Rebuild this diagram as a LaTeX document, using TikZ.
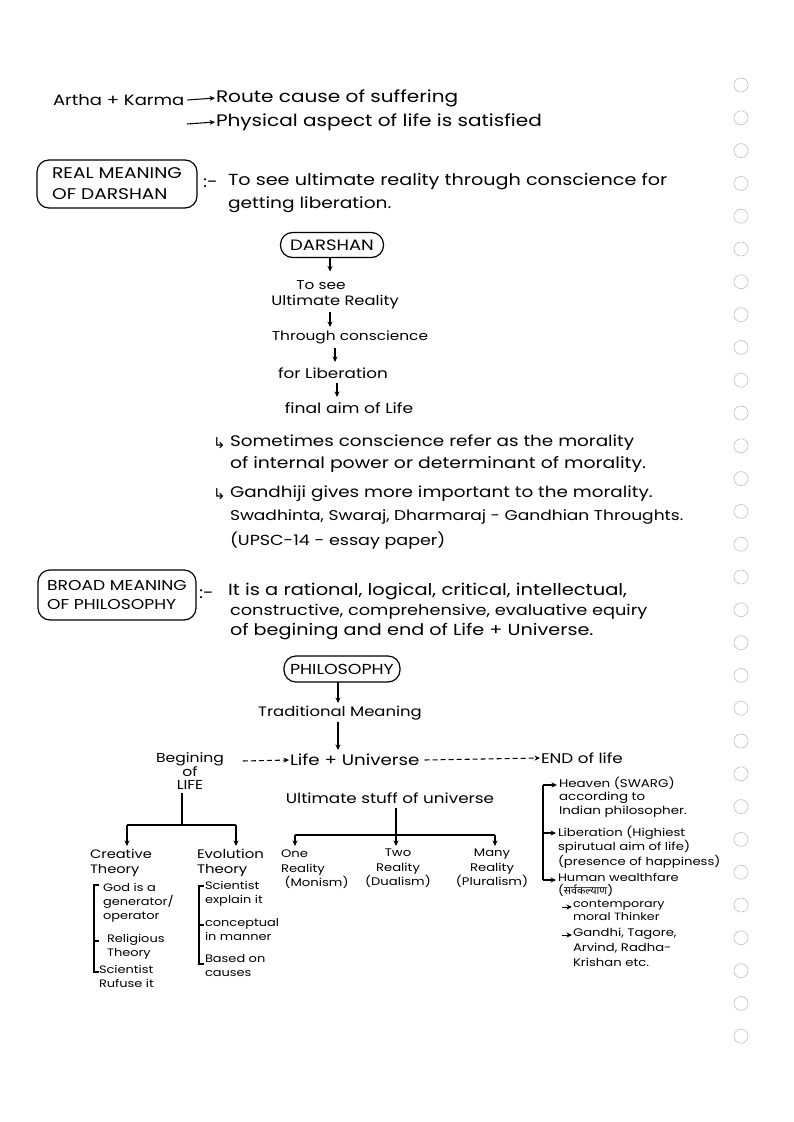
\documentclass[tikz,border=0pt]{standalone}
\usepackage{fontspec}
\setmainfont{Poppins}[FakeStretch=1.2]
\newfontfamily\hindi[Script=Devanagari]{Noto Sans}
\newfontfamily\sym{DejaVu Sans}
\usetikzlibrary{arrows.meta}
\newcommand{\fs}[1]{\fontsize{#1}{#1}\selectfont}
\begin{document}
\begin{tikzpicture}[x=1pt,y=-1pt,
  every node/.style={inner sep=0pt, outer sep=0pt},
  sml/.style={align=left},
  box/.style={draw, line width=1.2pt, rounded corners=12pt, align=left},
  arr/.style={-{Stealth[length=5.5pt,width=5pt]}, line width=1.05pt},
  ln/.style={line width=1.05pt},
  hole/.style={draw=gray!50, line width=0.6pt}]
\useasboundingbox (0,0) rectangle (794,1122);

% top lines
\node[anchor=west, font=\fs{15}] (ak) at (53,100) {Artha + Karma};
\node[anchor=west, font=\fs{16.7}] (r1) at (216,98) {Route cause of suffering};
\node[anchor=west, font=\fs{16.7}] (r2) at (216,122) {Physical aspect of life is satisfied};
\coordinate (a2) at (187,124);
\draw[arr] ([xshift=3pt]ak.east) -- ([xshift=-1pt]r1.west);
\draw[arr] (a2) -- ([xshift=-1pt]r2.west);

% real meaning of darshan
\node[box, minimum width=160pt, minimum height=48pt, inner xsep=8pt, font=\fontsize{15.5}{21}\selectfont] (rm) at (117,184) {REAL MEANING\\OF DARSHAN};
\node[anchor=west, font=\fs{16}] (c1) at (203,183) {:-};
\node[anchor=west, font=\fs{16}] (d1) at (228,182) {To see ultimate reality through conscience for};
\node[anchor=west, font=\fs{15.5}] (d2) at (228,205) {getting liberation.};

% darshan flow
\node[box, minimum width=103pt, minimum height=25pt, align=center, font=\fs{15}] (dar) at (332,245) {DARSHAN};
\node[font=\fs{12.8}] (t1) at (321,285) {To see};
\node[font=\fs{13.6}] (t2) at (335,302) {Ultimate Reality};
\node[font=\fs{12.8}] (t3) at (350,337) {Through conscience};
\node[font=\fs{14}] (t4) at (333,373) {for Liberation};
\node[font=\fs{14.3}] (t5) at (349,408) {final aim of Life};
\draw[arr] ([xshift=-2pt]dar.south) -- ++(0,14);
\draw[arr] (330,312) -- (330,327);
\draw[arr] (335,348) -- (335,362);
\draw[arr] (337,383) -- (337,397);

% notes
\node[anchor=west, font=\sym\fs{15}] (b1) at (213,443) {↳};
\node[anchor=west, font=\fs{15.3}] (n1) at (230,443) {Sometimes conscience refer as the morality};
\node[anchor=west, font=\fs{15.7}] (n2) at (230,465) {of internal power or determinant of morality.};
\node[anchor=west, font=\sym\fs{15}] (b2) at (213,494) {↳};
\node[anchor=west, font=\fs{15.3}] (n3) at (230,494) {Gandhiji gives more important to the morality.};
\node[anchor=west, font=\fs{14.2}] (n4) at (230,517) {Swadhinta, Swaraj, Dharmaraj - Gandhian Throughts.};
\node[anchor=west, font=\fs{14.6}] (n5) at (230,541) {(UPSC-14 - essay paper)};

% broad meaning
\node[box, minimum width=158pt, minimum height=50pt, inner xsep=8pt, font=\fontsize{14.3}{20}\selectfont] (bm) at (117,595) {BROAD MEANING\\OF PHILOSOPHY};
\node[anchor=west, font=\fs{16}] (c2) at (199,594) {:-};
\node[anchor=west, font=\fs{16.2}] (p1) at (228,592) {It is a rational, logical, critical, intellectual,};
\node[anchor=west, font=\fs{14.8}] (p2) at (230,612) {constructive, comprehensive, evaluative equiry};
\node[anchor=west, font=\fs{16}] (p3) at (230,632) {of begining and end of Life + Universe.};

% philosophy tree
\node[box, minimum width=116pt, minimum height=26pt, align=center, font=\fs{14.5}] (ph) at (342,669) {PHILOSOPHY};
\node[font=\fs{13.7}] (tm) at (340,713) {Traditional Meaning};
\node[anchor=west, font=\fs{15.2}] (lu) at (290,760) {Life + Universe};
\node[anchor=west, font=\fs{14}] (el) at (541,758) {END of life};
\node[align=center, font=\fontsize{13}{12.5}\selectfont] (bg) at (190,771) {Begining\\of\\LIFE};
\draw[arr] (338,682) -- (338,703);
\draw[arr] (338,722) -- (338,750);
\coordinate (b0) at (243,761);
\draw[arr, dash pattern=on 5pt off 3pt] (b0) -- ([xshift=-1pt]lu.west);
\draw[arr, dash pattern=on 5pt off 3pt] ([xshift=5pt]lu.east) -- ([xshift=-1pt]el.west);

% beginning of life branch
\coordinate (lj) at (182,825);
\draw[ln] (182,793) -- (lj);
\draw[ln] (127,825) -- (236,825);
\node[sml, font=\fontsize{12.2}{15.5}\selectfont, anchor=north west] (cr) at (90,849) {Creative\\Theory};
\node[sml, font=\fontsize{12.4}{15.5}\selectfont, anchor=north west] (ev) at (197,849) {Evolution\\Theory};
\draw[arr] (127,825) -- (127,846);
\draw[arr] (236,825) -- (236,846);

\node[sml, font=\fontsize{10.8}{14}\selectfont, anchor=north west] (cg) at (103,883) {God is a\\generator/\\operator};
\node[sml, font=\fontsize{10.8}{14}\selectfont, anchor=north west] (cre) at (107,934) {Religious\\Theory};
\node[sml, font=\fontsize{10.8}{14}\selectfont, anchor=north west] (cs) at (99,965) {Scientist\\Rufuse it};
\draw[ln] (99,885) -- (94,885) -- (94,972) -- (99,972);
\draw[ln] (94,941) -- (99,941);

\node[sml, font=\fontsize{10.8}{14}\selectfont, anchor=north west] (es) at (205,881) {Scientist\\explain it};
\node[sml, font=\fontsize{10.8}{14}\selectfont, anchor=north west] (ec) at (205,918) {conceptual\\in manner};
\node[sml, font=\fontsize{10.8}{14}\selectfont, anchor=north west] (eb) at (205,954) {Based on\\causes};
\draw[ln] (204,886) -- (199,886) -- (199,964) -- (204,964);
\draw[ln] (199,925) -- (204,925);

% ultimate stuff
\node[font=\fs{14}] (us) at (390,798) {Ultimate stuff of universe};
\draw[arr] (396,808) -- (396,846);
\draw[ln] (295,835) -- (495,835);
\draw[arr] (295,835) -- (295,846);
\draw[arr] (495,835) -- (495,846);
\node[sml, anchor=north west, font=\fontsize{11}{14.5}\selectfont] (m1) at (281,850) {One\\Reality\\\ (Monism)};
\node[sml, anchor=north, align=center, font=\fontsize{11}{14.5}\selectfont] (m2) at (398,849) {Two\\Reality\\(Dualism)};
\node[sml, anchor=north, align=center, font=\fontsize{11}{14.5}\selectfont] (m3) at (492,849) {Many\\Reality\\(Pluralism)};

% end of life branch
\draw[ln] (543,880) -- (543,785);
\draw[arr] (543,785) -- (557,785);
\draw[arr] (543,833) -- (556,833);
\draw[arr] (543,880) -- (556,880);
\node[sml, anchor=north west, font=\fontsize{11.2}{13.5}\selectfont] (h1) at (559,777) {Heaven (SWARG)\\according to\\Indian philosopher.};
\node[sml, anchor=north west, font=\fontsize{11}{14.5}\selectfont] (h2) at (558,826) {Liberation (Highiest\\spirutual aim of life)\\(presence of happiness)};
\node[sml, anchor=north west, font=\fontsize{10.8}{13.5}\selectfont] (h3) at (558,873) {Human wealthfare\\({\hindi सर्वकल्याण})};
\node[sml, anchor=north west, font=\fontsize{10.6}{13.5}\selectfont] (h4) at (573,900) {contemporary\\moral Thinker};
\node[sml, anchor=north west, font=\fontsize{11}{15}\selectfont] (h5) at (573,928) {Gandhi, Tagore,\\Arvind, Radha-\\Krishan etc.};
\coordinate (h4a) at (562,907);
\coordinate (h5a) at (562,935);
\draw[arr, line width=0.8pt] (h4a) -- ([xshift=-1pt]h4.west |- h4a);
\draw[arr, line width=0.8pt] (h5a) -- ([xshift=-1pt]h5.west |- h5a);

% punch holes in margin
\foreach \i in {0,...,29} {
  \draw[hole] (741,{85+32.8*\i}) circle (7);
}
\end{tikzpicture}
\end{document}
